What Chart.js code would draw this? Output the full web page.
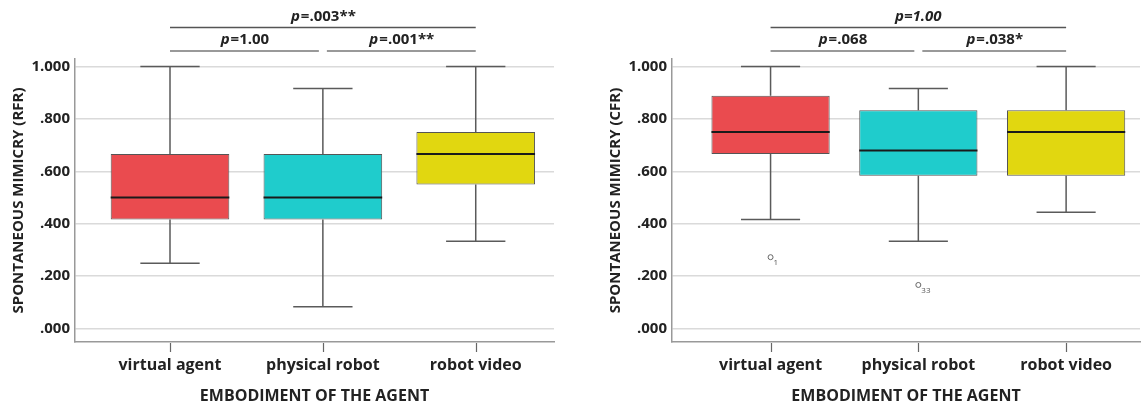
<!DOCTYPE html>
<html>
<head>
<meta charset="utf-8">
<script src="https://cdn.jsdelivr.net/npm/chart.js@4/dist/chart.umd.min.js"></script>
<style>
  body { margin: 0; background: #fff; }
  #wrap { position: relative; width: 1145px; height: 406px; }
  .box { position: absolute; top: 0; height: 406px; }
</style>
</head>
<body>
<div id="wrap">
  <div class="box" style="left:0;width:575px"><canvas id="rfr"></canvas></div>
  <div class="box" style="left:590px;width:555px"><canvas id="cfr"></canvas></div>
</div>
<script>
const categories = ['virtual agent', 'physical robot', 'robot video'];
const boxColors = ['#EA4B4F', '#1FCCCC', '#E1D710'];

// RFR panel (left)
const rfrMin = [0.25, 0.0833, 0.3333];
const rfrQ1 = [0.4167, 0.4167, 0.55];
const rfrMedian = [0.5, 0.5, 0.6667];
const rfrQ3 = [0.6667, 0.6667, 0.75];
const rfrMax = [1.0, 0.9167, 1.0];
const rfrOutliers = [];
const rfrPairs = [[1, 3], [1, 2], [2, 3]];
const rfrPText = [['p', '=.003**'], ['p', '=1.00'], ['p', '=.001**']];

// CFR panel (right)
const cfrMin = [0.4167, 0.3333, 0.4444];
const cfrQ1 = [0.6667, 0.5833, 0.5833];
const cfrMedian = [0.75, 0.68, 0.75];
const cfrQ3 = [0.8889, 0.8333, 0.8333];
const cfrMax = [1.0, 0.9167, 1.0];
const cfrOutliers = [{ cat: 1, value: 0.2727, id: '1' }, { cat: 2, value: 0.1667, id: '33' }];
const cfrPairs = [[1, 3], [1, 2], [2, 3]];
const cfrPText = [['p=1.00', ''], ['p', '=.068'], ['p', '=.038*']];

const yTicks = [0, 0.2, 0.4, 0.6, 0.8, 1.0];
const FONT = "'Open Sans', sans-serif";

// whiskers, medians, outlier ids, x tick marks and p-value brackets
const boxExtras = {
	id: 'boxExtras',
	beforeDatasetsDraw(chart) {
		const o = chart.options.plugins.boxExtras;
		const ctx = chart.ctx;
		const y = chart.scales.y;
		const bars = chart.getDatasetMeta(0).data;
		ctx.save();
		ctx.strokeStyle = '#5a5a5a';
		ctx.lineWidth = 1.5;
		bars.forEach((bar, i) => {
			const half = bar.width / 4;
			const yMin = y.getPixelForValue(o.min[i]);
			const yMax = y.getPixelForValue(o.max[i]);
			ctx.beginPath();
			ctx.moveTo(bar.x, yMax);
			ctx.lineTo(bar.x, y.getPixelForValue(o.q3[i]));
			ctx.moveTo(bar.x, yMin);
			ctx.lineTo(bar.x, y.getPixelForValue(o.q1[i]));
			ctx.moveTo(bar.x - half, yMax);
			ctx.lineTo(bar.x + half, yMax);
			ctx.moveTo(bar.x - half, yMin);
			ctx.lineTo(bar.x + half, yMin);
			ctx.stroke();
		});
		ctx.restore();
	},
	afterDatasetsDraw(chart) {
		const o = chart.options.plugins.boxExtras;
		const ctx = chart.ctx;
		const x = chart.scales.x;
		const y = chart.scales.y;
		const area = chart.chartArea;
		const bars = chart.getDatasetMeta(0).data;
		ctx.save();
		// medians
		ctx.strokeStyle = '#1a1a1a';
		ctx.lineWidth = 2;
		bars.forEach((bar, i) => {
			const ym = y.getPixelForValue(o.median[i]);
			ctx.beginPath();
			ctx.moveTo(bar.x - bar.width / 2, ym);
			ctx.lineTo(bar.x + bar.width / 2, ym);
			ctx.stroke();
		});
		// tick marks under the x axis
		ctx.strokeStyle = '#666';
		ctx.lineWidth = 1.2;
		categories.forEach((c, i) => {
			const tx = Math.round(x.getPixelForValue(i + 1)) + 0.5;
			ctx.beginPath();
			ctx.moveTo(tx, area.bottom + 1);
			ctx.lineTo(tx, area.bottom + 10);
			ctx.stroke();
		});
		// outlier case numbers
		ctx.fillStyle = '#555';
		ctx.font = "8px " + FONT;
		ctx.textBaseline = 'middle';
		ctx.textAlign = 'left';
		o.outliers.forEach(p => {
			ctx.fillText(p.id, x.getPixelForValue(p.cat) + 3, y.getPixelForValue(p.value) + 6);
		});
		// brackets
		o.pairs.forEach((pr, k) => {
			const level = k === 0 ? 0 : 1;
			const ly = level === 0 ? area.top - 31.5 : area.top - 8;
			let x1 = x.getPixelForValue(pr[0]);
			let x2 = x.getPixelForValue(pr[1]);
			if (level === 1 && pr[0] === 2) x1 += 4;
			if (level === 1 && pr[1] === 2) x2 -= 4;
			ctx.strokeStyle = level === 0 ? '#555' : '#777';
			ctx.lineWidth = 1.5;
			ctx.beginPath();
			ctx.moveTo(x1, ly);
			ctx.lineTo(x2, ly);
			ctx.stroke();
			const t = o.texts[k];
			ctx.fillStyle = '#222';
			const fi = "italic bold 15px " + FONT;
			const fb = "bold 15px " + FONT;
			ctx.font = fi;
			const w1 = ctx.measureText(t[0]).width;
			ctx.font = fb;
			const w2 = ctx.measureText(t[1]).width;
			let tx = (x1 + x2) / 2 - (w1 + w2) / 2;
			const ty = ly - 11;
			ctx.textAlign = 'left';
			ctx.font = fi;
			ctx.fillText(t[0], tx, ty);
			ctx.font = fb;
			ctx.fillText(t[1], tx + w1 + 1, ty);
		});
		ctx.restore();
	}
};

function makeChart(id, s) {
	return new Chart(document.getElementById(id), {
		type: 'bar',
		data: {
			datasets: [
				{
					data: categories.map((c, i) => ({ x: i + 1, y: [s.q1[i], s.q3[i]] })),
					backgroundColor: boxColors,
					borderColor: '#555',
					borderWidth: 1,
					borderSkipped: false,
					barPercentage: s.barPct,
					categoryPercentage: 1
				},
				{
					type: 'scatter',
					data: s.outliers.map(p => ({ x: p.cat, y: p.value })),
					pointRadius: 2.5,
					pointBorderWidth: 1,
					pointBorderColor: '#666',
					pointBackgroundColor: '#fff'
				}
			]
		},
		options: {
			responsive: true,
			maintainAspectRatio: false,
			animation: false,
			layout: { padding: { left: 0, top: 59, right: s.padRight, bottom: 0 } },
			plugins: {
				legend: { display: false },
				tooltip: { enabled: false },
				boxExtras: {
					min: s.min, q1: s.q1, median: s.median, q3: s.q3, max: s.max,
					outliers: s.outliers, pairs: s.pairs, texts: s.texts
				}
			},
			scales: {
				x: {
					type: 'linear',
					min: s.xMin,
					max: s.xMax,
					offset: false,
					afterBuildTicks: sc => { sc.ticks = categories.map((c, i) => ({ value: i + 1 })); },
					afterFit: sc => { sc.height = 64; },
					ticks: {
						callback: v => categories[v - 1],
						font: { family: FONT, size: 16, weight: 'bold' },
						color: '#222',
						padding: 6,
						maxRotation: 0,
						autoSkip: false
					},
					grid: { display: false },
					border: { display: true, color: '#999', width: 1.5 },
					title: {
						display: true,
						text: 'EMBODIMENT OF THE AGENT',
						font: { family: FONT, size: 16, weight: 'bold', lineHeight: 1.2 },
						color: '#222',
						padding: { top: 0, bottom: 0 }
					}
				},
				y: {
					min: -0.051,
					max: 1.029,
					afterBuildTicks: sc => { sc.ticks = yTicks.map(v => ({ value: v })); },
					afterFit: sc => { sc.width = s.yWidth; },
					ticks: {
						callback: v => v.toFixed(3).replace(/^0/, ''),
						font: { family: FONT, size: 15, weight: 'bold' },
						color: '#222',
						padding: 5
					},
					grid: { color: '#dadada', lineWidth: 1.5, drawTicks: false },
					border: { display: true, color: '#999', width: 1.5 },
					title: {
						display: true,
						text: s.yTitle,
						font: { family: FONT, size: 15, weight: 'bold', lineHeight: 1.2 },
						color: '#222',
						padding: { top: s.yTitlePad, bottom: 0 }
					}
				}
			}
		},
		plugins: [boxExtras]
	});
}

makeChart('rfr', {
	min: rfrMin, q1: rfrQ1, median: rfrMedian, q3: rfrQ3, max: rfrMax,
	outliers: rfrOutliers, pairs: rfrPairs, texts: rfrPText,
	yTitle: 'SPONTANEOUS MIMICRY (RFR)',
	xMin: 0.3785, xMax: 3.512, barPct: 0.776,
	yWidth: 75, padRight: 21, yTitlePad: 9.5
});

makeChart('cfr', {
	min: cfrMin, q1: cfrQ1, median: cfrMedian, q3: cfrQ3, max: cfrMax,
	outliers: cfrOutliers, pairs: cfrPairs, texts: cfrPText,
	yTitle: 'SPONTANEOUS MIMICRY (CFR)',
	xMin: 0.333, xMax: 3.5, barPct: 0.80,
	yWidth: 82, padRight: 0, yTitlePad: 17
});
</script>
</body>
</html>
